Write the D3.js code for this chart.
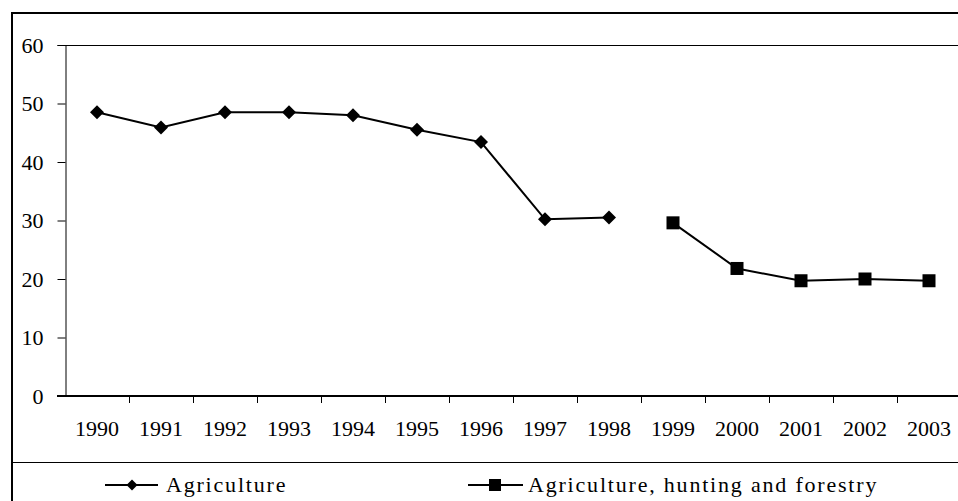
<!DOCTYPE html>
<html>
<head>
<meta charset="utf-8">
<script src="https://cdn.jsdelivr.net/npm/d3@7"></script>
<style>
  body { margin: 0; background: #fff; }
  svg { display: block; font-family: "Liberation Serif", "Times New Roman", serif; }
</style>
</head>
<body>
<svg id="chart" width="958" height="501"></svg>
<script>
var years = ['1990','1991','1992','1993','1994','1995','1996','1997','1998','1999','2000','2001','2002','2003'];
var agriYears = ['1990','1991','1992','1993','1994','1995','1996','1997','1998'];
var agriValues = [48.5, 45.9, 48.5, 48.5, 48.0, 45.5, 43.4, 30.2, 30.5];
var ahfYears = ['1999','2000','2001','2002','2003'];
var ahfValues = [29.6, 21.8, 19.7, 20.0, 19.7];
var yTicks = [0, 10, 20, 30, 40, 50, 60];
var seriesNames = ['Agriculture', 'Agriculture, hunting and forestry'];

var svg = d3.select('#chart');

// outer frame + legend separator
svg.append('rect').attr('x', 12).attr('y', 13).attr('width', 980).attr('height', 520)
  .attr('fill', 'none').attr('stroke', '#000').attr('stroke-width', 2);
svg.append('line').attr('x1', 12).attr('x2', 958).attr('y1', 462.5).attr('y2', 462.5)
  .attr('stroke', '#000').attr('stroke-width', 1);

var x = d3.scaleBand().domain(years).range([65, 961]);
var y = d3.scaleLinear().domain([0, 60]).range([396, 45]);

// plot area top border
svg.append('line').attr('x1', 65).attr('x2', 961).attr('y1', y(60) + 0.5).attr('y2', y(60) + 0.5)
  .attr('stroke', '#000').attr('stroke-width', 1);

// y axis
var yAxis = svg.append('g').attr('transform', 'translate(65.5,0)')
  .call(d3.axisLeft(y).tickValues(yTicks).tickSize(8).tickPadding(14).tickFormat(d3.format('d')));
yAxis.select('.domain').attr('stroke', '#000');
yAxis.selectAll('text').attr('font-size', 22).attr('fill', '#000')
  .attr('font-family', '"Liberation Serif", serif');

// x axis (labels centred, ticks on category boundaries)
var xAxis = svg.append('g').attr('transform', 'translate(0,' + y(0) + ')')
  .call(d3.axisBottom(x).tickSize(0).tickPadding(24));
xAxis.select('.domain').remove();
xAxis.selectAll('text').attr('font-size', 22).attr('fill', '#000')
  .attr('font-family', '"Liberation Serif", serif');
svg.append('line').attr('x1', 57).attr('x2', 961).attr('y1', y(0)).attr('y2', y(0))
  .attr('stroke', '#000').attr('stroke-width', 2);
svg.selectAll('.xtick').data(years.slice(1)).enter().append('line')
  .attr('x1', function(d) { return x(d) + 0.5; }).attr('x2', function(d) { return x(d) + 0.5; })
  .attr('y1', y(0)).attr('y2', y(0) + 7).attr('stroke', '#000');

var cx = function(d) { return x(d) + x.bandwidth() / 2; };

// Agriculture
var agri = agriYears.map(function(d, i) { return [cx(d), y(agriValues[i])]; });
svg.append('path').attr('d', d3.line()(agri)).attr('fill', 'none')
  .attr('stroke', '#000').attr('stroke-width', 2);
svg.selectAll('.dia').data(agri).enter().append('path')
  .attr('transform', function(d) { return 'translate(' + d[0] + ',' + d[1] + ')'; })
  .attr('d', 'M0,-7L7,0L0,7L-7,0Z').attr('fill', '#000');

// Agriculture, hunting and forestry
var ahf = ahfYears.map(function(d, i) { return [cx(d), y(ahfValues[i])]; });
svg.append('path').attr('d', d3.line()(ahf)).attr('fill', 'none')
  .attr('stroke', '#000').attr('stroke-width', 2);
svg.selectAll('.sq').data(ahf).enter().append('rect')
  .attr('x', function(d) { return d[0] - 6.5; }).attr('y', function(d) { return d[1] - 6.5; })
  .attr('width', 13).attr('height', 13).attr('fill', '#000');

// legend
var lg = svg.append('g');
lg.append('line').attr('x1', 105).attr('x2', 158).attr('y1', 485).attr('y2', 485)
  .attr('stroke', '#000').attr('stroke-width', 2);
lg.append('path').attr('transform', 'translate(132,485)').attr('d', 'M0,-5.5L5.5,0L0,5.5L-5.5,0Z');
lg.append('text').attr('x', 166).attr('y', 492).attr('font-size', 22)
  .attr('letter-spacing', 1.8).text(seriesNames[0]);
lg.append('line').attr('x1', 468).attr('x2', 523).attr('y1', 485).attr('y2', 485)
  .attr('stroke', '#000').attr('stroke-width', 2);
lg.append('rect').attr('x', 489).attr('y', 479).attr('width', 12).attr('height', 12);
lg.append('text').attr('x', 528).attr('y', 492).attr('font-size', 22)
  .attr('letter-spacing', 1.8).text(seriesNames[1]);
</script>
</body>
</html>
